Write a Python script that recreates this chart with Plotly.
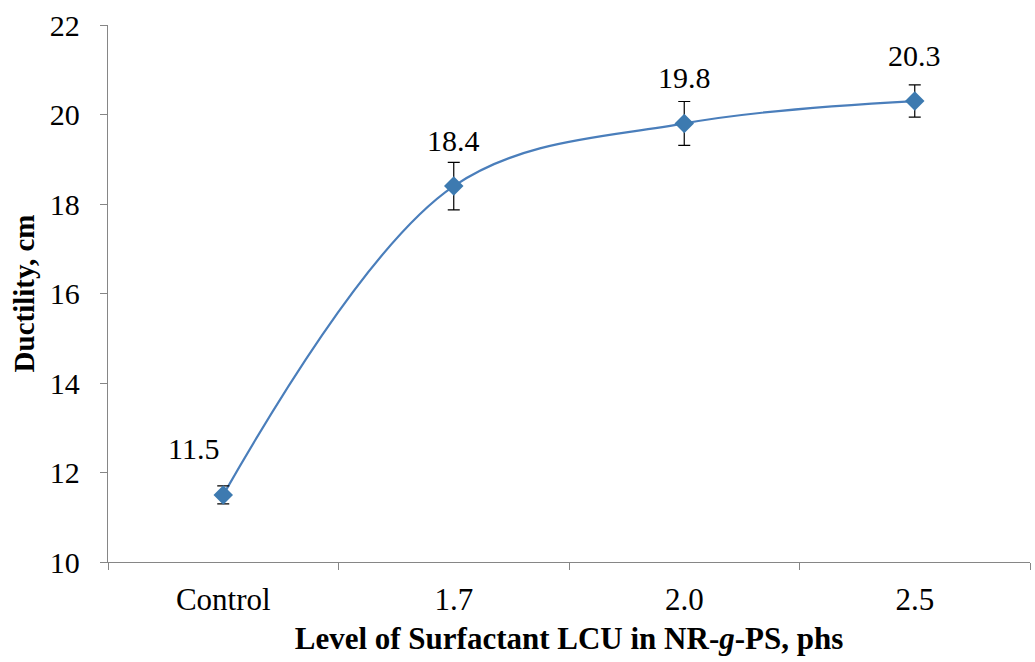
import plotly.graph_objects as go

categories = ["Control", "1.7", "2.0", "2.5"]
ductility = [11.5, 18.4, 19.8, 20.3]
errors = [0.2, 0.53, 0.49, 0.36]
labels = ["11.5", "18.4", "19.8", "20.3"]
label_xshift = [-30, 0, 0, 0]

blue = "#4A7EBB"
marker_blue = "#3D7AB0"
axis_grey = "#868686"
font_family = "Liberation Serif"

fig = go.Figure()
fig.add_trace(go.Scatter(
    x=categories, y=ductility,
    mode="lines",
    line=dict(color=blue, width=2.2, shape="spline", smoothing=1.0),
    hoverinfo="skip", showlegend=False,
))
fig.add_trace(go.Scatter(
    x=categories, y=ductility,
    mode="markers",
    marker=dict(symbol="diamond", size=15, color=marker_blue,
                line=dict(color=marker_blue, width=0)),
    error_y=dict(type="data", array=errors, visible=True,
                 color="#000000", thickness=1.2, width=6),
    showlegend=False,
))

for i, (v, t, xs) in enumerate(zip(ductility, labels, label_xshift)):
    fig.add_annotation(x=i, y=v, xref="x", yref="y", text=t, showarrow=False,
                       xshift=xs, yshift=46,
                       font=dict(family=font_family, size=30, color="#000000"))

fig.update_layout(
    width=1035, height=662,
    margin=dict(l=108, r=5, t=25, b=100),
    paper_bgcolor="white", plot_bgcolor="white",
    font=dict(family=font_family, color="#000000"),
)
fig.update_xaxes(
    type="category", categoryorder="array", categoryarray=categories,
    range=[-0.5, 3.5],
    showline=True, linecolor=axis_grey, linewidth=1.3,
    ticks="outside", tickson="boundaries", ticklen=7, tickcolor=axis_grey,
    showgrid=False, zeroline=False, ticklabelstandoff=10,
    tickfont=dict(family=font_family, size=31, color="#000000"),
    title=dict(text="<b>Level of Surfactant LCU in NR-<i>g</i>-PS, phs</b>",
               font=dict(family=font_family, size=31, color="#000000"),
               standoff=10),
)
fig.update_yaxes(
    range=[10, 22], dtick=2,
    showline=True, linecolor=axis_grey, linewidth=1.3,
    ticks="outside", ticklen=7, tickcolor=axis_grey,
    showgrid=False, zeroline=False, ticklabelstandoff=14,
    tickfont=dict(family=font_family, size=30, color="#000000"),
    title=dict(text="<b>Ductility, cm</b>",
               font=dict(family=font_family, size=29, color="#000000"),
               standoff=6),
)

fig.write_html("out.html")
